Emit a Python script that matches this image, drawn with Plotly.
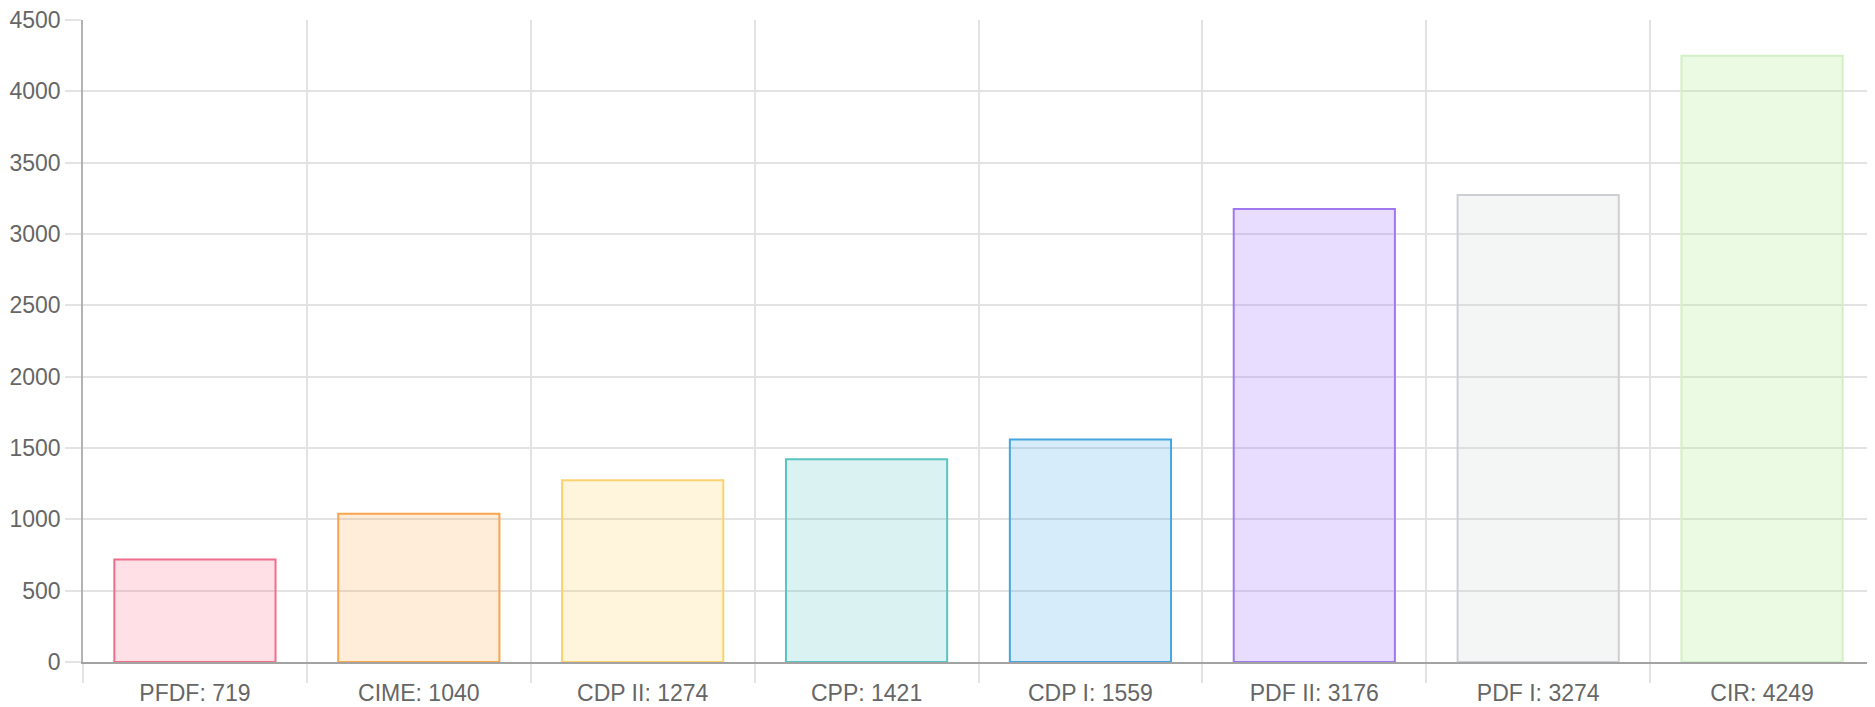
import plotly.graph_objects as go

categories = ["PFDF: 719", "CIME: 1040", "CDP II: 1274", "CPP: 1421", "CDP I: 1559", "PDF II: 3176", "PDF I: 3274", "CIR: 4249"]
values = [719, 1040, 1274, 1421, 1559, 3176, 3274, 4249]
fill_colors = ["rgba(255,99,132,0.2)", "rgba(255,159,64,0.2)", "rgba(255,205,86,0.2)", "rgba(75,192,192,0.2)",
               "rgba(54,162,235,0.2)", "rgba(153,102,255,0.22)", "rgba(201,203,207,0.2)", "rgba(180,240,150,0.27)"]
line_colors = ["rgb(240,110,140)", "rgb(250,165,80)", "rgb(252,210,110)", "rgb(90,195,195)",
               "rgb(70,165,225)", "rgb(160,120,240)", "rgb(205,207,210)", "rgb(212,238,198)"]
y_ticks = [0, 500, 1000, 1500, 2000, 2500, 3000, 3500, 4000, 4500]

positions = [i + 0.5 for i in range(len(categories))]
boundaries = list(range(len(categories) + 1))

fig = go.Figure(go.Bar(
    x=positions, y=values, width=0.72,
    marker=dict(color=fill_colors, line=dict(color=line_colors, width=2)),
    hoverinfo="skip",
))

font = dict(family="Liberation Sans, Arial, Helvetica, sans-serif", size=23, color="#666666")

# page body has an 8px default margin, so the figure is sized to fit the window
fig.update_layout(
    width=1867, height=699,
    margin=dict(l=75, r=1, t=12, b=45),
    paper_bgcolor="white", plot_bgcolor="white",
    showlegend=False,
    font=font,
)
fig.update_xaxes(
    range=[0, len(categories)], automargin=False,
    tickmode="array", tickvals=positions, ticktext=categories,
    ticks="outside", ticklen=9, tickcolor="rgba(0,0,0,0)",
    showgrid=False, zeroline=False,
    showline=True, linecolor="#a3a3a3", linewidth=2,
    tickfont=font, ticklabeloverflow="allow",
    minor=dict(tickmode="array", tickvals=boundaries, ticks="outside", ticklen=19,
               tickcolor="#e3e3e3", tickwidth=1.5, showgrid=True, gridcolor="#e3e3e3", gridwidth=1.5),
)
fig.update_yaxes(
    range=[0, 4500], automargin=False,
    tickmode="array", tickvals=y_ticks,
    ticks="outside", ticklen=16, tickcolor="#e3e3e3", tickwidth=1.5,
    showgrid=True, gridcolor="#e3e3e3", gridwidth=1.5,
    zeroline=False,
    showline=True, linecolor="#b3b3b3", linewidth=1.5,
    tickfont=font, ticklabeloverflow="allow",
)

fig.write_html("out.html")
